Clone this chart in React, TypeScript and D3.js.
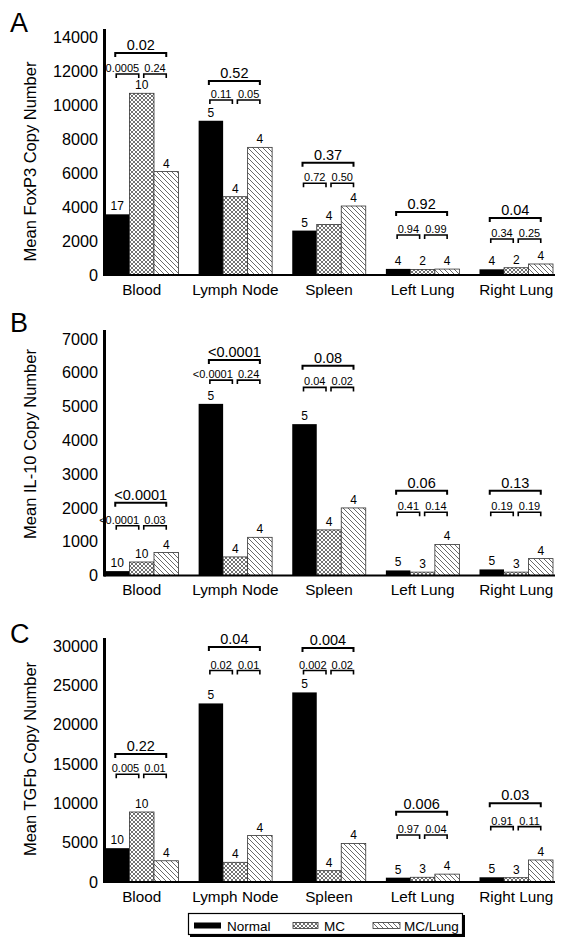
import React from 'react';
import * as d3 from 'd3';

const organs = ['Blood', 'Lymph Node', 'Spleen', 'Left Lung', 'Right Lung'];
const groups = ['Normal', 'MC', 'MC/Lung'];

// Panel A – FoxP3
const foxp3Normal = [3580, 9100, 2620, 360, 335];
const foxp3MC = [10720, 4620, 2980, 330, 430];
const foxp3MCLung = [6100, 7530, 4070, 350, 650];
const foxp3Counts = [[17, 10, 4], [5, 4, 4], [5, 4, 4], [4, 2, 4], [4, 2, 4]];
const foxp3P = [['0.02', '0.0005', '0.24'], ['0.52', '0.11', '0.05'], ['0.37', '0.72', '0.50'], ['0.92', '0.94', '0.99'], ['0.04', '0.34', '0.25']];
const foxp3Brackets = [[13100, 11860], [11445, 10324], [6625, 5410], [3717, 2360], [3363, 2124]];
const foxp3Ticks = [0, 2000, 4000, 6000, 8000, 10000, 12000, 14000];

// Panel B – IL-10
const il10Normal = [130, 5080, 4480, 150, 180];
const il10MC = [400, 550, 1350, 100, 100];
const il10MCLung = [680, 1130, 2000, 920, 500];
const il10Counts = [[10, 10, 4], [5, 4, 4], [5, 4, 4], [5, 3, 4], [5, 3, 4]];
const il10P = [['<0.0001', '<0.0001', '0.03'], ['<0.0001', '<0.0001', '0.24'], ['0.08', '0.04', '0.02'], ['0.06', '0.41', '0.14'], ['0.13', '0.19', '0.19']];
const il10Brackets = [[2154, 1473], [6376, 5784], [6207, 5568], [2509, 1870], [2509, 1870]];
const il10Ticks = [0, 1000, 2000, 3000, 4000, 5000, 6000, 7000];

// Panel C – TGFb
const tgfbNormal = [4300, 22700, 24100, 550, 600];
const tgfbMC = [8900, 2500, 1440, 600, 550];
const tgfbMCLung = [2700, 5900, 4900, 1000, 2800];
const tgfbCounts = [[10, 10, 4], [5, 4, 4], [5, 4, 4], [5, 3, 4], [5, 3, 4]];
const tgfbP = [['0.22', '0.005', '0.01'], ['0.04', '0.02', '0.01'], ['0.004', '0.002', '0.02'], ['0.006', '0.97', '0.04'], ['0.03', '0.91', '0.11']];
const tgfbBrackets = [[16285, 13700], [29860, 26885], [29730, 26885], [8945, 5980], [10010, 7040]];
const tgfbTicks = [0, 5000, 10000, 15000, 20000, 25000, 30000];

const FONT = '"Liberation Sans", Arial, Helvetica, sans-serif';
const fills = ['#000', 'url(#xhatch)', 'url(#diag)'];

const panels = [
  { letter: 'A', title: 'Mean FoxP3 Copy Number', series: [foxp3Normal, foxp3MC, foxp3MCLung], counts: foxp3Counts, p: foxp3P, brackets: foxp3Brackets, ticks: foxp3Ticks,
    base: 275, topPx: 37.7, axisTop: 29, letterY: 32, titleY: 161.5 },
  { letter: 'B', title: 'Mean IL-10 Copy Number', series: [il10Normal, il10MC, il10MCLung], counts: il10Counts, p: il10P, brackets: il10Brackets, ticks: il10Ticks,
    base: 575.5, topPx: 339, axisTop: 330, letterY: 332, titleY: 444 },
  { letter: 'C', title: 'Mean TGFb Copy Number', series: [tgfbNormal, tgfbMC, tgfbMCLung], counts: tgfbCounts, p: tgfbP, brackets: tgfbBrackets, ticks: tgfbTicks,
    base: 882, topPx: 646, axisTop: 638, letterY: 643, titleY: 759 },
];

const x0 = d3.scaleBand<string>().domain(organs).range([105, 553]).paddingInner(0.215).paddingOuter(0);
const x1 = d3.scaleBand<string>().domain(groups).range([0, x0.bandwidth()]).padding(0);

function Panel({ cfg }: { cfg: typeof panels[number] }) {
  const maxTick = cfg.ticks[cfg.ticks.length - 1];
  const y = d3.scaleLinear().domain([0, maxTick]).range([cfg.base, cfg.topPx]);
  const bw = x1.bandwidth();
  return (
    <g>
      <text x={10} y={cfg.letterY} fontSize={27} fontFamily={FONT}>{cfg.letter}</text>
      <text transform={`translate(36,${cfg.titleY}) rotate(-90)`} textAnchor="middle" fontSize={16.5} fontFamily={FONT}>{cfg.title}</text>
      {cfg.ticks.map(t => (
        <text key={t} x={98} y={y(t)} dy="0.35em" textAnchor="end" fontSize={16.2} fontFamily={FONT}>{t}</text>
      ))}
      {organs.map((o, i) => {
        const gx = x0(o)!;
        const centers = groups.map(g => gx + x1(g)! + bw / 2);
        const [bigV, smallV] = cfg.brackets[i];
        const by = y(bigV);
        const sy = y(smallV);
        const [pBig, pS1, pS2] = cfg.p[i];
        const br = (xa: number, xb: number, yy: number) =>
          `M${xa},${yy + 4} L${xa},${yy} L${xb},${yy} L${xb},${yy + 4}`;
        const s1a = centers[0] - 1, s1b = centers[1] - 3;
        const s2a = centers[1] + 2, s2b = centers[2];
        const long1 = pS1.length > 4;
        const long2 = pS2.length > 4;
        return (
          <g key={o}>
            {groups.map((g, k) => {
              const v = cfg.series[k][i];
              const bx = gx + x1(g)!;
              return (
                <g key={g}>
                  <rect x={bx} y={y(v)} width={bw} height={cfg.base - y(v)} fill={fills[k]}
                    stroke={k === 0 ? '#000' : '#333'} strokeWidth={k === 0 ? 0 : 0.8} />
                  <text x={bx + bw / 2} y={y(v) - 4} textAnchor="middle" fontSize={12} fontFamily={FONT}>{cfg.counts[i][k]}</text>
                </g>
              );
            })}
            <path d={br(centers[0] - 2, centers[2], by)} fill="none" stroke="#000" strokeWidth={2} />
            <text x={(centers[0] - 2 + centers[2]) / 2} y={by - 3} textAnchor="middle" fontSize={14.5} fontFamily={FONT}>{pBig}</text>
            <path d={br(s1a, s1b, sy)} fill="none" stroke="#000" strokeWidth={1.6} />
            <path d={br(s2a, s2b, sy)} fill="none" stroke="#000" strokeWidth={1.6} />
            <text x={long1 ? s1b + 0.5 : (s1a + s1b) / 2} y={sy - 2} textAnchor={long1 ? 'end' : 'middle'} fontSize={11} fontFamily={FONT}>{pS1}</text>
            <text x={long2 ? s2a : (s2a + s2b) / 2} y={sy - 2} textAnchor={long2 ? 'start' : 'middle'} fontSize={11} fontFamily={FONT}>{pS2}</text>
            <text x={gx + x0.bandwidth() / 2} y={cfg.base + 19.5} textAnchor="middle" fontSize={15.3} fontFamily={FONT}>{o}</text>
          </g>
        );
      })}
      <line x1={104} x2={555} y1={cfg.base} y2={cfg.base} stroke="#000" strokeWidth={2} />
      <line x1={104.5} x2={104.5} y1={cfg.axisTop} y2={cfg.base + 1} stroke="#000" strokeWidth={3} />
    </g>
  );
}

function Legend() {
  const items = [
    { label: groups[0], sx: 194, sw: 27, tx: 227 },
    { label: groups[1], sx: 293, sw: 25, tx: 324 },
    { label: groups[2], sx: 373, sw: 27, tx: 404 },
  ];
  return (
    <g>
      <rect x={190} y={915} width={275} height={22} fill="#000" />
      <rect x={188.5} y={913.5} width={274} height={21} fill="#fff" stroke="#000" strokeWidth={1.2} />
      {items.map((it, k) => (
        <g key={it.label}>
          <rect x={it.sx} y={922.5} width={it.sw} height={6} fill={fills[k]} stroke={k === 0 ? 'none' : '#333'} strokeWidth={0.8} />
          <text x={it.tx} y={930.5} fontSize={13.5} fontFamily={FONT}>{it.label}</text>
        </g>
      ))}
    </g>
  );
}

export default function App() {
  return (
    <svg width={564} height={945} style={{ position: 'absolute', left: 0, top: 0, background: '#fff' }}>
      <defs>
        <pattern id="xhatch" patternUnits="userSpaceOnUse" width={4} height={4}>
          <rect width={4} height={4} fill="#fff" />
          <path d="M0,0 L4,4 M-1,3 L1,5 M3,-1 L5,1 M0,4 L4,0 M-1,1 L1,-1 M3,5 L5,3" stroke="#333" strokeWidth={0.7} />
        </pattern>
        <pattern id="diag" patternUnits="userSpaceOnUse" width={5} height={5}>
          <rect width={5} height={5} fill="#fff" />
          <path d="M0,0 L5,5 M-1,4 L1,6 M4,-1 L6,1" stroke="#444" strokeWidth={0.8} />
        </pattern>
      </defs>
      <rect width={564} height={945} fill="#fff" />
      {panels.map(p => <Panel key={p.letter} cfg={p} />)}
      <Legend />
    </svg>
  );
}
